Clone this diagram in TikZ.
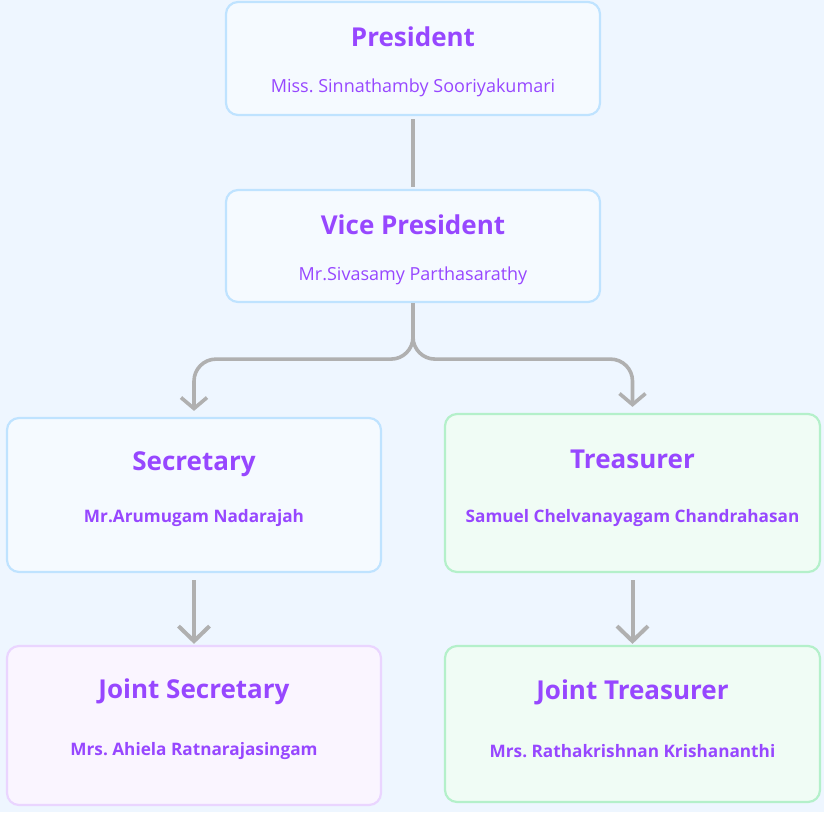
\documentclass[tikz,border=0pt]{standalone}
\usepackage{fontspec}
\setmainfont{Open Sans}
\usetikzlibrary{positioning, arrows.meta}
\definecolor{bgblue}{HTML}{EEF6FF}
\definecolor{boxblue}{HTML}{F5FAFF}
\definecolor{lineblue}{HTML}{BFE3FF}
\definecolor{boxgreen}{HTML}{F0FCF5}
\definecolor{linegreen}{HTML}{B4F0CA}
\definecolor{boxpurple}{HTML}{FAF5FF}
\definecolor{linepurple}{HTML}{EAD5FF}
\definecolor{namepurple}{HTML}{9747FF}
\definecolor{conngray}{HTML}{B0B0B0}
\frenchspacing

\begin{document}
\begin{tikzpicture}[x=1pt, y=-1pt,
    rolebox/.style={draw, line width=2.2pt, rounded corners=12pt, minimum width=374pt, inner sep=0pt},
    bluebox/.style={rolebox, draw=lineblue, fill=boxblue},
    greenbox/.style={rolebox, draw=linegreen, fill=boxgreen},
    purplebox/.style={rolebox, draw=linepurple, fill=boxpurple},
    roletitle/.style={font=\fontsize{26}{30}\selectfont\bfseries, text=namepurple},
    rolename/.style={font=\fontsize{18}{22}\selectfont, text=namepurple},
    rolenamebf/.style={rolename, font=\fontsize{17.2}{21}\selectfont\bfseries},
    conn/.style={conngray, line width=3.6pt},
    connarrow/.style={conn, -{Straight Barb[length=11pt, width=26pt]}},
    bigarrow/.style={conn, line width=4pt, -{Straight Barb[length=15pt, width=31pt]}}]
  % Fundo
  \fill[bgblue] (0,0) rectangle (824,812);
  % Caixas
  \node[bluebox, minimum height=113pt] (pres) at (413,58.5) {};
  \node[bluebox, minimum height=112pt] (vp) at (413,246) {};
  \node[bluebox, minimum height=154pt] (sec) at (194,495) {};
  \node[greenbox, minimum height=158pt, minimum width=375pt] (tr) at (632.5,493) {};
  \node[purplebox, minimum height=159pt] (js) at (194,725.5) {};
  \node[greenbox, minimum height=156pt, minimum width=375pt] (jt) at (632.5,724) {};
  % Titulos e nomes
  \node[roletitle] (prestitle) at ([yshift=-36pt]pres.north) {President};
  \node[rolename] (presname) at ([yshift=-87pt]pres.north) {Miss. Sinnathamby Sooriyakumari};
  \node[roletitle] (vptitle) at ([yshift=-36pt]vp.north) {Vice President};
  \node[rolename] (vpname) at ([yshift=-87pt]vp.north) {Mr.Sivasamy Parthasarathy};
  \node[roletitle] (sectitle) at ([yshift=-47pt]sec.north) {Secretary};
  \node[rolenamebf] (secname) at ([yshift=-101pt]sec.north) {Mr.Arumugam Nadarajah};
  \node[roletitle] (trtitle) at ([yshift=-46pt]tr.north) {Treasurer};
  \node[rolenamebf] (trname) at ([yshift=-105pt]tr.north) {Samuel Chelvanayagam Chandrahasan};
  \node[roletitle] (jstitle) at ([yshift=-47pt]js.north) {Joint Secretary};
  \node[rolenamebf] (jsname) at ([yshift=-106pt]js.north) {Mrs. Ahiela Ratnarajasingam};
  \node[roletitle] (jttitle) at ([yshift=-47pt]jt.north) {Joint Treasurer};
  \node[rolenamebf] (jtname) at ([yshift=-106pt]jt.north) {Mrs. Rathakrishnan Krishananthi};
  % Ligacoes
  \draw[conn, shorten <=3pt, shorten >=2pt] (pres.south) -- (vp.north);
  \draw[connarrow, rounded corners=22pt, shorten >=6pt] (vp.south) -- ++(0,56) -| (sec.north);
  \draw[connarrow, rounded corners=22pt, shorten >=6pt] (vp.south) -- ++(0,56) -| (tr.north);
  \draw[bigarrow, shorten <=7pt, shorten >=1pt] (sec.south) -- (js.north);
  \draw[bigarrow, shorten <=7pt, shorten >=1pt] (tr.south) -- (jt.north);
\end{tikzpicture}
\end{document}
